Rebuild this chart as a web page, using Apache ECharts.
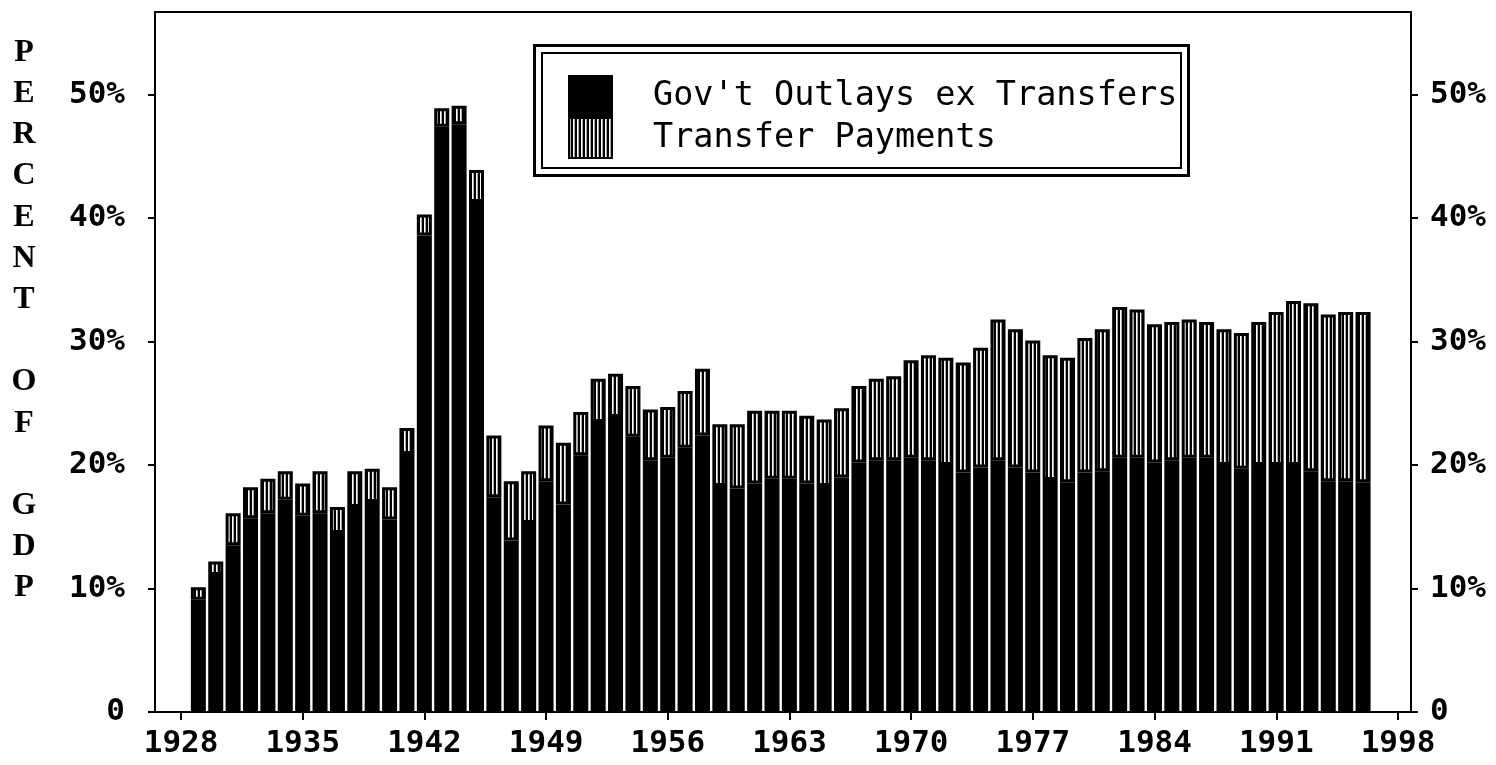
<!DOCTYPE html>
<html>
<head>
<meta charset="utf-8">
<script src="https://cdn.jsdelivr.net/npm/echarts@6/dist/echarts.min.js"></script>
<style>
  html, body { margin: 0; padding: 0; background: #fff; }
  #chart { width: 1496px; height: 765px; }
</style>
</head>
<body>
<div id="chart"></div>
<script>
// Category slots on the bar axis (1927..1998); bars exist for 1929..1996
const categories = [];
for (let y = 1927; y <= 1998; y++) categories.push(String(y));

// Government outlays excluding transfers, % of GDP, 1929..1996
const govOutlays = [
  9.1, 11.1, 13.5, 15.7, 16.1, 17.2, 15.9, 16.1, 14.5, 16.6,
  17.0, 15.6, 20.9, 38.6, 47.4, 47.6, 41.3, 17.4, 13.9, 15.3,
  18.7, 16.8, 20.8, 23.5, 23.9, 22.3, 20.4, 20.6, 21.4, 22.4,
  18.3, 18.1, 18.5, 18.9, 18.9, 18.5, 18.3, 19.0, 20.2, 20.4,
  20.4, 20.6, 20.4, 20.0, 19.4, 19.8, 20.4, 19.8, 19.4, 18.8,
  18.6, 19.4, 19.5, 20.6, 20.6, 20.2, 20.4, 20.6, 20.6, 20.0,
  19.7, 20.0, 20.0, 20.0, 19.5, 18.7, 18.7, 18.6
];

// Transfer payments, % of GDP, 1929..1996
const transfers = [
  1.0, 1.1, 2.6, 2.5, 2.8, 2.3, 2.6, 3.4, 2.1, 2.9,
  2.7, 2.6, 2.1, 1.7, 1.5, 1.5, 2.6, 5.0, 4.8, 4.2,
  4.5, 5.0, 3.5, 3.5, 3.5, 4.1, 4.1, 4.1, 4.6, 5.4,
  5.0, 5.2, 5.9, 5.5, 5.5, 5.5, 5.4, 5.6, 6.2, 6.6,
  6.8, 7.9, 8.5, 8.7, 8.9, 9.7, 11.4, 11.2, 10.7, 10.1,
  10.1, 10.9, 11.5, 12.2, 12.0, 11.2, 11.2, 11.2, 11.0, 11.0,
  11.0, 11.6, 12.4, 13.3, 13.6, 13.5, 13.7, 13.8
];
const firstYear = 1929;

// Axis ticks
const xTicks = [1928, 1935, 1942, 1949, 1956, 1963, 1970, 1977, 1984, 1991, 1998];
const yTicks = [0, 10, 20, 30, 40, 50];

const seriesNames = ["Gov't Outlays ex Transfers", "Transfer Payments"];
const yAxisTitle = 'PERCENT OF GDP';

// stripe pattern
const pc = document.createElement('canvas');
pc.width = 4; pc.height = 4;
const pctx = pc.getContext('2d');
pctx.fillStyle = '#000'; pctx.fillRect(0, 0, 4, 4);
pctx.fillStyle = '#fff'; pctx.fillRect(0, 0, 1, 4);
pctx.fillStyle = '#aaa'; pctx.fillRect(1, 0, 1, 4);
const stripe = { image: pc, repeat: 'repeat' };

function onCategories(arr) {
  return categories.map(c => {
    const i = Number(c) - firstYear;
    return (i >= 0 && i < arr.length) ? arr[i] : '-';
  });
}

const chart = echarts.init(document.getElementById('chart'), null, { renderer: 'canvas' });

const labelFont = { fontFamily: 'DejaVu Sans Mono', fontWeight: 'bold', fontSize: 31, color: '#000' };
const yFmt = v => (v === 0 ? '0' : v + '%');
const titleLetters = yAxisTitle.split('').map(c => (c === ' ' ? '' : c)).join('\n');

const option = {
  backgroundColor: '#fff',
  animation: false,
  grid: [
    { left: 155, right: 85, top: 12, bottom: 53, containLabel: false },
    { left: 154.9, right: 89.5, top: 12, bottom: 53, containLabel: false }
  ],
  legend: {
    orient: 'vertical',
    left: 568,
    top: 75,
    padding: 0,
    itemGap: 0,
    itemWidth: 43,
    itemHeight: 40,
    icon: 'rect',
    selectedMode: false,
    data: seriesNames,
    textStyle: {
      fontFamily: 'DejaVu Sans Mono', fontSize: 33.5, color: '#000',
      padding: [0, 0, 0, 36]
    },
    z: 10
  },
  graphic: [
    { type: 'rect', z: 5, shape: { x: 534.5, y: 45.5, width: 654, height: 130 },
      style: { fill: '#fff', stroke: '#000', lineWidth: 3 } },
    { type: 'rect', z: 5, shape: { x: 542, y: 53, width: 639, height: 115 },
      style: { fill: 'none', stroke: '#000', lineWidth: 2 } },
    { type: 'text', x: 24, y: 32, z: 5,
      style: { text: titleLetters, textAlign: 'center', textVerticalAlign: 'top',
        font: 'bold 32px "Liberation Serif"', lineHeight: 41.2, fill: '#000' } }
  ],
  xAxis: [
    {
      gridIndex: 0, type: 'value', min: 1926.5, max: 1998.75,
      axisLine: { show: true, onZero: false, lineStyle: { color: '#000', width: 2 } },
      axisTick: { show: true, customValues: xTicks, length: 8, lineStyle: { color: '#000', width: 2 } },
      axisLabel: Object.assign({ customValues: xTicks, margin: 16, formatter: v => String(v) }, labelFont),
      splitLine: { show: false }, z: 3
    },
    {
      gridIndex: 0, type: 'value', position: 'top', min: 1926.5, max: 1998.75,
      axisLine: { show: true, onZero: false, lineStyle: { color: '#000', width: 2 } },
      axisTick: { show: false }, axisLabel: { show: false }, splitLine: { show: false }
    },
    {
      gridIndex: 1, type: 'category', data: categories, boundaryGap: true,
      axisLine: { show: false }, axisTick: { show: false }, axisLabel: { show: false }, splitLine: { show: false }
    }
  ],
  yAxis: [
    {
      gridIndex: 0, type: 'value', position: 'left', min: 0, max: 56.7,
      axisLine: { show: true, onZero: false, lineStyle: { color: '#000', width: 2 } },
      axisTick: { show: true, customValues: yTicks, length: 7, lineStyle: { color: '#000', width: 2 } },
      axisLabel: Object.assign({ customValues: yTicks, margin: 30, formatter: yFmt }, labelFont),
      splitLine: { show: false }, z: 3
    },
    {
      gridIndex: 0, type: 'value', position: 'right', min: 0, max: 56.7,
      axisLine: { show: true, onZero: false, lineStyle: { color: '#000', width: 2 } },
      axisTick: { show: true, customValues: yTicks, length: 7, lineStyle: { color: '#000', width: 2 } },
      axisLabel: Object.assign({ customValues: yTicks, margin: 19, formatter: yFmt }, labelFont),
      splitLine: { show: false }
    },
    {
      gridIndex: 1, type: 'value', min: 0, max: 56.7,
      axisLine: { show: false }, axisTick: { show: false }, axisLabel: { show: false }, splitLine: { show: false }
    }
  ],
  series: [
    {
      name: seriesNames[0], type: 'bar', stack: 'total', barWidth: 15,
      xAxisIndex: 2, yAxisIndex: 2,
      data: onCategories(govOutlays),
      itemStyle: { color: '#000', borderColor: '#000', borderWidth: 3 }
    },
    {
      name: seriesNames[1], type: 'bar', stack: 'total', barWidth: 15,
      xAxisIndex: 2, yAxisIndex: 2,
      data: onCategories(transfers),
      itemStyle: { color: stripe, borderColor: '#000', borderWidth: 3 }
    }
  ]
};
chart.setOption(option);
</script>
</body>
</html>
